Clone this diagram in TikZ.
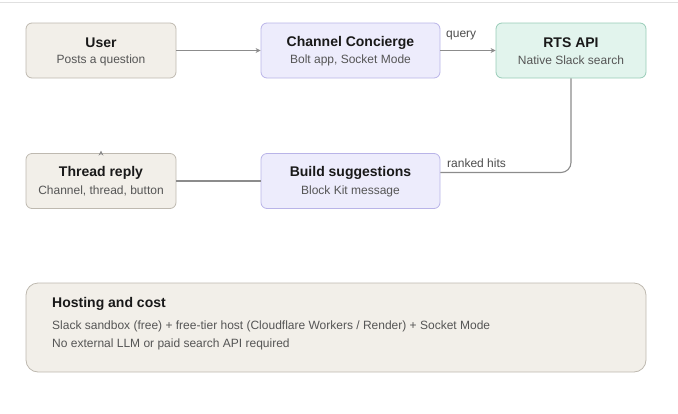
\documentclass[tikz,border=0pt]{standalone}
\usepackage{fontspec}
\setmainfont{Liberation Sans}
\usetikzlibrary{calc,arrows.meta}
\definecolor{sandfill}{RGB}{242,239,233}
\definecolor{sandline}{RGB}{190,185,176}
\definecolor{lilacfill}{RGB}{237,236,252}
\definecolor{lilacline}{RGB}{185,180,232}
\definecolor{mintfill}{RGB}{226,244,237}
\definecolor{mintline}{RGB}{152,204,183}
\definecolor{wire}{RGB}{140,140,140}
\definecolor{subtext}{RGB}{85,85,85}
\tikzset{
 card/.style={draw, rounded corners=6, line width=0.8pt, minimum height=55, inner sep=0},
 title/.style={font=\fontsize{14}{16}\selectfont\bfseries, text=black!90, inner sep=0},
 sub/.style={font=\fontsize{12}{14}\selectfont, text=subtext, inner sep=0},
 lbl/.style={font=\fontsize{12}{14}\selectfont, text=black!70, inner sep=0},
 flow/.style={draw=wire, line width=1.1pt, -{Stealth[length=5pt,width=5pt]}},
 link/.style={draw=wire, line width=1.1pt}
}
\newcommand{\card}[7]{% name, x, y, width, colour, title, subtitle
 \node[card, fill=#5fill, draw=#5line, minimum width=#4] (#1) at (#2,#3) {};
 \node[title] (#1-t) at ($(#1.center)+(0,-8)$) {#6};
 \node[sub] (#1-s) at ($(#1.center)+(0,10)$) {#7};
}
\begin{document}
\begin{tikzpicture}[x=1pt,y=-1pt]
\useasboundingbox (0,0) rectangle (678,413);
\draw[black!12, line width=1pt] (0,2.5) coordinate (rl) -- (678,2.5) coordinate (rr);

% top row
\card{user}{101}{50.5}{150}{sand}{User}{Posts a question}
\card{chan}{350.5}{50.5}{179}{lilac}{Channel Concierge}{Bolt app, Socket Mode}
\card{rts}{571}{50.5}{150}{mint}{RTS API}{Native Slack search}

% second row
\card{thread}{101}{181}{150}{sand}{Thread reply}{Channel, thread, button}
\card{build}{350.5}{181}{179}{lilac}{Build suggestions}{Block Kit message}

\draw[flow] (user) -- (chan);
\draw[flow] (chan) -- (rts);
\node[lbl, anchor=west] (q) at (446,36) {query};

\draw[link, rounded corners=10] (rts.south) |- ($(build.east)+(0,-8.5)$);
\node[lbl, anchor=west] (rh) at (447,163) {ranked hits};

\draw[link] (build) -- (thread);
\draw[flow, line width=0.8pt] (thread.north) -- ++(0,-2.5);

% hosting
\node[card, fill=sandfill, draw=sandline, rounded corners=12, minimum width=620, minimum height=89] (host) at (336,327.5) {};
\node[title, anchor=west] (host-t) at (52,303.5) {Hosting and cost};
\node[sub, anchor=west] (host-a) at (52,326) {Slack sandbox (free) + free-tier host (Cloudflare Workers / Render) + Socket Mode};
\node[sub, anchor=west] (host-b) at (52,344) {No external LLM or paid search API required};
\end{tikzpicture}
\end{document}
